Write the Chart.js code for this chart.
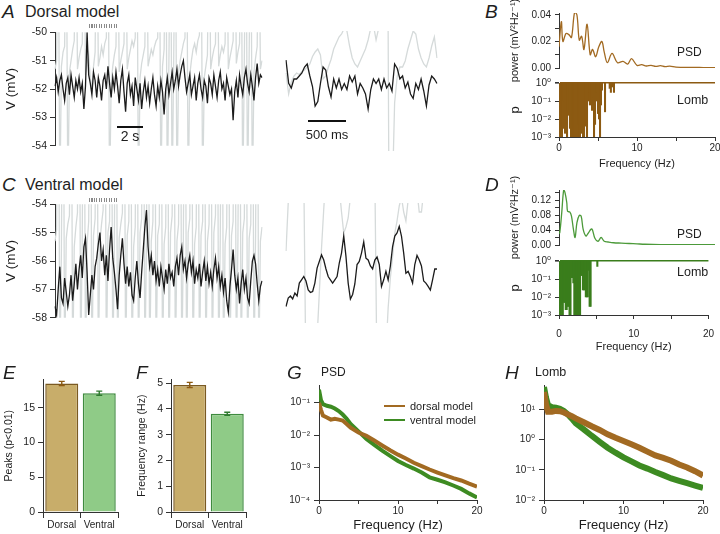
<!DOCTYPE html>
<html>
<head>
<meta charset="utf-8">
<script src="https://cdn.jsdelivr.net/npm/chart.js@4.4.1/dist/chart.umd.min.js"></script>
<style>
  body { margin: 0; width: 720px; height: 534px; position: relative; overflow: hidden; background: #fff;
         font-family: "Liberation Sans", Arial, "DejaVu Sans", sans-serif; color: #1e1e1e; }
  canvas { position: absolute; }
  .t { position: absolute; white-space: nowrap; line-height: 1; }
  .let { font-style: italic; font-size: 19px; }
  .bar { position: absolute; background: #111; }
  .dots { position: absolute; height: 4px; background: repeating-linear-gradient(90deg, #8a8a8a 0 1px, transparent 1px 2.5px); }
</style>
</head>
<body>
<script>
// ---- dorsal model traces (mV) ----
const dorsalLong = [
  -51.9,-51.6,-52.1,-51.7,-51.5,-52.0,-52.4,-51.8,-51.6,-52.2,
  -51.5,-51.9,-52.3,-51.7,-52.0,-51.6,-52.1,-51.8,-52.7,-51.9,
  -50.0,-51.5,-51.8,-52.2,-51.4,-51.7,-52.3,-51.6,-51.9,-52.4,
  -51.7,-51.5,-52.0,-51.2,-51.8,-52.3,-51.6,-52.0,-51.4,-51.9,
  -52.5,-51.7,-51.3,-52.1,-52.8,-51.8,-51.5,-52.2,-51.9,-52.6,
  -51.6,-52.0,-52.4,-51.8,-52.7,-52.1,-51.7,-52.3,-51.9,-52.5,
  -52.0,-51.6,-52.2,-52.6,-51.9,-52.3,-51.7,-52.1,-52.9,-52.0,
  -51.6,-52.2,-51.8,-51.4,-52.0,-51.7,-51.3,-51.9,-51.5,-51.2,
  -51.0,-51.6,-52.1,-51.8,-51.5,-52.2,-51.9,-51.6,-52.4,-51.8,
  -51.5,-52.0,-52.3,-51.7,-51.9,-52.5,-51.6,-51.8,-52.2,-51.5,
  -51.9,-52.3,-51.7,-51.4,-52.0,-51.8,-52.4,-51.6,-51.9,-52.2,
  -52.0,-53.1,-52.1,-51.7,-52.3,-51.5,-51.9,-52.2,-51.6,-51.3,
  -51.8,-52.1,-51.5,-51.9,-52.4,-51.6,-51.1,-51.8,-51.5,-51.6];
const dorsalLongSpk = [
  -51.3,-51.0,-45,-56,-51.2,-50.7,-50.5,-45,-56,-51.4,
  -51.0,-50.6,-50.3,-45,-51.3,-50.9,-50.6,-50.4,-45,-51.5,
  -51.1,-50.8,-51.6,-52.1,-51.2,-50.7,-45,-51.2,-50.9,-50.5,
  -50.8,-50.4,-50.2,-45,-56,-51.8,-51.2,-50.8,-50.5,-45,
  -51.4,-51.0,-50.7,-50.4,-45,-51.3,-50.9,-50.6,-50.3,-50.5,
  -50.2,-45,-56,-51.6,-51.1,-50.8,-50.5,-45,-51.2,-50.9,
  -50.6,-50.8,-50.5,-50.3,-50.2,-45,-56,-51.2,-50.6,-45,
  -56,-51.0,-45,-56,-50.8,-45,-56,-51.4,-51.0,-50.7,
  -50.4,-50.2,-45,-56,-51.5,-51.0,-50.6,-50.4,-50.7,-50.3,
  -50.1,-45,-56,-51.6,-51.2,-50.8,-45,-51.3,-50.9,-50.6,
  -50.4,-45,-51.2,-50.8,-50.5,-50.7,-50.4,-45,-51.3,-50.9,
  -50.6,-50.3,-45,-51.1,-50.7,-50.4,-45,-56,-50.9,-45,
  -56,-50.8,-45,-56,-51.4,-50.9,-50.5,-45,-51.3,-51.0];
const dorsalZoom = [
  -50.97,-51.74,-51.9,-51.6,-51.6,-51.5,-51.4,-51.2,-51.1,-51.5,
  -51.85,-52.5,-52.35,-51.75,-51.2,-51.3,-51.85,-52.2,-51.6,-51.9,
  -51.6,-51.95,-51.75,-51.95,-51.5,-51.7,-51.5,-52.1,-51.75,-51.9,
  -52.1,-52.6,-51.95,-51.6,-51.75,-51.6,-51.95,-51.6,-51.9,-51.75,
  -52.0,-51.1,-51.25,-51.6,-51.5,-51.9,-51.7,-52.1,-52.25,-51.75,
  -51.95,-51.6,-52.0,-52.5,-51.8,-51.5,-51.6,-51.75];
const dorsalZoomSpk = [
  -51.4,-52.1,-51.7,-51.5,-51.4,-51.45,-51.35,-51.3,-51.2,-51.1,
  -50.85,-50.7,-50.6,-50.8,-51.6,-51.5,-51.2,-50.95,-50.6,-50.4,
  -50.2,-50.1,-49.9,-50.0,-50.5,-50.9,-51.1,-51.2,-51.0,-50.8,
  -50.6,-50.3,-49.9,-49.8,-50.3,-49.9,-49.8,-49.9,-40,-58,
  -56,-52.4,-51.5,-51.2,-51.2,-51.0,-50.6,-50.3,-50.0,-50.1,
  -50.6,-50.9,-51.1,-51.2,-50.9,-50.5,-50.2,-50.9];

// ---- ventral model traces (mV) ----
const ventralLong = [
  -57.6,-57.9,-57.0,-56.2,-57.3,-57.5,-56.6,-57.1,-57.6,-57.2,
  -56.5,-57.4,-56.8,-56.1,-57.0,-56.3,-55.8,-56.6,-55.5,-55.2,
  -56.4,-57.9,-57.2,-56.5,-57.0,-56.2,-55.9,-55.4,-55.0,-56.0,
  -55.6,-56.5,-55.8,-56.7,-55.6,-54.8,-55.9,-56.4,-57.0,-57.7,
  -56.5,-55.8,-55.2,-56.1,-56.8,-56.2,-56.9,-56.4,-57.2,-57.4,
  -56.6,-56.0,-56.8,-57.3,-56.4,-55.6,-54.8,-54.2,-55.5,-56.2,
  -55.8,-56.5,-56.0,-56.7,-56.3,-56.9,-56.2,-56.6,-57.0,-56.3,
  -56.8,-56.1,-56.6,-56.4,-56.9,-56.2,-55.9,-56.5,-55.8,-55.5,
  -56.3,-56.0,-56.6,-56.1,-55.8,-56.4,-56.0,-56.8,-56.3,-56.6,
  -56.1,-56.9,-56.4,-56.0,-56.7,-56.2,-56.8,-56.4,-56.9,-56.3,
  -55.9,-56.6,-56.2,-56.9,-56.5,-57.1,-56.6,-57.4,-57.8,-56.9,
  -56.3,-55.6,-56.5,-57.0,-56.6,-57.5,-56.8,-56.3,-57.0,-56.6,
  -57.3,-57.5,-56.7,-56.0,-55.8,-56.1,-56.8,-57.4,-56.9,-56.7];
const ventralLongSpk = [
  -55.3,-54.9,-45,-60,-55.6,-45,-60,-55.2,-54.7,-54.4,
  -45,-60,-55.5,-54.8,-54.3,-45,-60,-55.0,-45,-60,
  -55.4,-54.6,-45,-60,-55.1,-54.5,-45,-60,-55.3,-54.7,
  -54.2,-45,-60,-55.0,-54.6,-45,-60,-55.4,-45,-60,
  -55.2,-54.7,-54.3,-45,-60,-55.1,-54.6,-45,-60,-55.5,
  -54.8,-45,-60,-55.0,-54.5,-45,-60,-55.2,-45,-60,
  -55.3,-54.6,-45,-60,-55.1,-54.7,-45,-60,-55.4,-54.8,
  -45,-60,-55.0,-54.4,-45,-60,-55.3,-54.7,-45,-60,
  -55.2,-45,-60,-55.0,-54.5,-45,-60,-55.4,-54.8,-45,
  -60,-55.1,-54.6,-45,-60,-55.3,-54.7,-45,-60,-55.0,
  -54.4,-45,-60,-55.2,-45,-60,-55.4,-54.8,-45,-60,
  -55.1,-54.6,-45,-60,-55.3,-45,-60,-55.0,-54.5,-45,
  -60,-55.2,-54.7,-45,-60,-55.1,-45,-60,-55.3,-54.8];
const ventralZoom = [
  -57.45,-57.17,-57.1,-57.2,-57.0,-57.1,-56.67,-56.56,-56.45,-56.6,
  -56.9,-56.98,-56.95,-56.67,-56.17,-55.95,-55.73,-55.9,-56.2,-56.45,
  -56.56,-56.67,-56.56,-56.45,-56.0,-55.67,-55.1,-55.78,-56.67,-57.2,
  -57.05,-56.7,-56.05,-55.95,-55.67,-55.3,-55.84,-55.9,-56.1,-56.2,
  -55.9,-55.8,-56.05,-56.78,-56.56,-56.28,-56.56,-56.1,-55.45,-55.1,
  -55.0,-54.78,-55.1,-55.67,-56.34,-56.28,-56.45,-56.67,-56.05,-55.75,
  -55.9,-56.1,-56.6,-56.67,-56.78,-56.9,-56.56,-56.2,-56.2];
const ventralZoomSpk = [
  -55.6,-54.0,-53,-53,-53,-53,-53,-53,-53,-60,
  -60,-60,-60,-60,-58.5,-57,-55.5,-54.2,-53,-53,
  -53,-53,-53,-53,-53.5,-54.3,-55.0,-54.8,-54.5,-53.8,
  -53,-53,-53,-53,-53,-53,-53,-53,-53,-53,
  -53,-60,-60,-60,-60,-59,-57.5,-56.5,-55.8,-55,
  -54.6,-54.1,-53.8,-54.3,-54.6,-53.9,-53,-53,-53,-53.6,
  -54.3,-54.3,-53.6,-53,-53,-53,-53,-53,-53];

// ---- single-trace spectra (B, D) ----
const psdFreqB = [0,0.3,0.5,0.9,1.3,1.6,2.0,2.3,2.6,2.9,3.2,3.6,4.0,4.3,4.7,5.1,5.5,5.8,6.2,6.8,7.5,8.2,8.8,9.3,10,10.6,11.2,11.8,12.4,13,13.6,14.2,15,16,17,18,19,20];
const psdB = [0.016,0.035,0.02,0.026,0.025,0.023,0.042,0.04,0.021,0.024,0.014,0.033,0.01,0.014,0.0085,0.016,0.02,0.012,0.004,0.011,0.004,0.005,0.003,0.007,0.002,0.0025,0.0015,0.002,0.0012,0.0018,0.001,0.0014,0.0006,0.0005,0.0004,0.0004,0.0003,0.0003];
const lombFreqB = [0.13,0.26,0.38,0.51,0.64,0.77,0.9,1.03,1.15,1.41,1.54,1.67,1.79,1.92,2.05,2.18,2.31,2.44,2.56,2.69,2.95,3.08,3.21,3.46,3.59,3.72,3.85,3.97,4.23,4.36,4.49,4.62,4.74,4.87,5.0,5.13,5.26,5.38,5.51,5.9,6.5,6.65,6.8,7.05];
const lombPB = [1e-4,1e-4,1e-4,3e-3,0.1,1.6e-3,0.01,1e-4,0.016,3e-3,1e-4,1e-4,1e-4,1e-4,1e-4,1e-4,1e-4,1e-4,5e-3,1e-4,1.6e-3,1e-4,1e-4,4e-3,1e-4,0.1,0.3,0.06,0.03,0.16,1e-4,5e-3,0.1,0.3,0.02,0.01,1e-4,0.06,0.4,0.025,0.5,0.3,0.6,0.3];
const psdFreqD = [0,0.1,0.35,0.6,0.77,1.0,1.1,1.4,1.6,1.85,2.06,2.3,2.6,2.84,3.1,3.45,3.7,4.2,4.6,5.0,5.4,5.8,6.3,7,8,9,10,11,12,14,16,18,20];
const psdD = [0.03,0.033,0.086,0.147,0.14,0.113,0.09,0.088,0.077,0.042,0.02,0.06,0.079,0.077,0.042,0.024,0.03,0.043,0.018,0.01,0.02,0.01,0.008,0.006,0.005,0.004,0.003,0.002,0.0015,0.001,0.001,0.0008,0.0008];
const lombFreqD = [0.13,0.26,0.38,0.51,0.64,0.77,0.9,1.03,1.15,1.28,1.41,1.54,1.67,1.79,1.92,2.05,2.18,2.31,2.44,2.56,2.69,2.82,2.95,3.08,3.21,3.33,3.46,3.59,3.72,3.85,3.97,4.1,4.23,5.13];
const lombPD = [1e-4,1e-4,4e-3,1e-4,5e-3,5e-3,2e-3,2e-3,3e-3,3e-3,1e-4,1e-4,0.12,0.12,0.06,1e-4,1e-4,1e-4,1e-4,1e-4,1e-4,1e-4,0.16,0.16,0.025,0.025,0.025,0.01,0.01,0.01,0.3,3e-3,3e-3,0.5];

// ---- population summary (E, F) ----
const groups = ['Dorsal', 'Ventral'];
const peaksMean = [18.5, 17.1];
const peaksErr = [0.3, 0.3];
const rangeMean = [4.93, 3.81];
const rangeErr = [0.1, 0.06];

// ---- averaged spectra (G, H) ----
const avgFreq = [0,0.25,0.5,1,1.5,2,2.5,3,3.5,4,5,6,7,8,9,10,11,12,13,14,15,16,17,18,19,20];
const psdDorsal = [0.10,0.06,0.04,0.035,0.03,0.032,0.03,0.028,0.022,0.017,0.012,0.0095,0.0068,0.0048,0.0034,0.0025,0.0019,0.0014,0.0011,0.00087,0.0007,0.00057,0.00047,0.0004,0.00032,0.00026];
const psdVentral = [0.25,0.12,0.09,0.08,0.075,0.066,0.055,0.043,0.032,0.022,0.013,0.0076,0.005,0.0033,0.0023,0.0016,0.0012,0.00093,0.0007,0.0005,0.00042,0.00035,0.00028,0.00022,0.00016,0.00012];
const lombDorsal = [38,15,8.5,8.5,9,8.8,8,6.9,6,5.1,3.8,2.8,2.1,1.5,1.15,0.9,0.7,0.54,0.4,0.3,0.25,0.2,0.15,0.12,0.09,0.065];
const lombVentral = [56,25,14,12,11.5,10.5,9,6.9,5,3.5,2.2,1.35,0.85,0.54,0.37,0.26,0.19,0.14,0.11,0.085,0.067,0.052,0.043,0.036,0.03,0.025];

const AX = '#333';
const BROWN = '#a26a22', BROWN_D = '#8c5a12', GREEN = '#3d8b22', GREEN_D = '#3a7d1c';
const FONT = '"Liberation Sans", Arial, "DejaVu Sans", sans-serif';
Chart.defaults.font.family = FONT;
Chart.defaults.color = '#1e1e1e';
Chart.defaults.plugins.legend.display = false;
Chart.defaults.plugins.tooltip.enabled = false;

const SUP = { '-': '⁻', '0': '⁰', '1': '¹', '2': '²', '3': '³', '4': '⁴' };
function sup(v) {
  var e = Math.round(Math.log10(v));
  return '10' + String(e).split('').map(function (ch) { return SUP[ch]; }).join('');
}
function pts(xs, ys) { return xs.map(function (x, i) { return { x: x, y: ys[i] }; }); }

// axis builder, Igor-like: outside ticks, no grid in the plot
function ax(o) {
  var a = {
    type: o.type || 'linear',
    display: true,
    offset: !!o.offset,
    border: { color: AX, width: 1 },
    grid: { drawOnChartArea: false, color: AX, tickLength: o.tl || 5, offset: !!o.offset },
    ticks: { autoSkip: false, maxRotation: 0, font: { size: o.fs || 10 }, padding: o.pad == null ? 3 : o.pad },
    title: { display: false }
  };
  if (o.min != null) a.min = o.min;
  if (o.max != null) a.max = o.max;
  if (o.at) a.afterBuildTicks = function (s) { s.ticks = o.at.map(function (v) { return { value: v }; }); };
  if (o.fmt) a.ticks.callback = o.fmt;
  if (o.title) a.title = { display: true, text: o.title, font: { size: o.tfs || 11 }, padding: o.tpad };
  return a;
}

// places a canvas so that its plot area lands on area {l,t,r,b}
function panel(area, m, cfg) {
  var c = document.createElement('canvas');
  var w = area.r - area.l + m.l + m.r, h = area.b - area.t + m.t + m.b;
  c.style.left = (area.l - m.l) + 'px';
  c.style.top = (area.t - m.t) + 'px';
  c.style.width = w + 'px';
  c.style.height = h + 'px';
  c.width = w; c.height = h;
  document.body.appendChild(c);
  var sc = cfg.options.scales;
  var yOn = sc.y.display !== false, xOn = sc.x.display !== false;
  if (yOn) sc.y.afterFit = function (s) { s.width = m.l; };
  if (xOn) sc.x.afterFit = function (s) { s.height = m.b; };
  cfg.options.layout = { padding: { left: yOn ? 0 : m.l, right: m.r, top: m.t, bottom: xOn ? 0 : m.b } };
  cfg.options.responsive = false;
  cfg.options.animation = false;
  return new Chart(c, cfg);
}

function trace(area, m, black, gray, lo, hi, withAxis) {
  return panel(area, m, {
    type: 'line',
    data: {
      labels: black.map(function (_, i) { return i; }),
      datasets: [
        { data: black, borderColor: '#1b1b1b', borderWidth: 1.3, pointRadius: 0, tension: 0 },
        { data: gray, borderColor: '#d5dada', borderWidth: 1.3, pointRadius: 0, tension: 0 }
      ]
    },
    options: {
      scales: {
        x: { type: 'category', display: false, offset: false },
        y: withAxis
          ? ax({ min: lo, max: hi, at: [lo, lo + 1, lo + 2, lo + 3, hi], fmt: function (v) { return v; },
                 fs: 10.5, tl: 5, pad: 3, title: 'V (mV)', tfs: 13.5, tpad: { top: 3, bottom: 0 } })
          : { display: false, min: lo, max: hi }
      }
    }
  });
}

function psd(area, m, freq, vals, max, at, labelled, color) {
  return panel(area, m, {
    type: 'line',
    data: { datasets: [{ data: pts(freq, vals), borderColor: color, borderWidth: 1.3, pointRadius: 0, tension: 0.35 }] },
    options: {
      scales: {
        x: { type: 'linear', display: false, min: 0, max: 20 },
        y: ax({ min: 0, max: max, at: at,
                fmt: function (v) { return labelled.some(function (t) { return Math.abs(t - v) < 1e-9; }) ? v.toFixed(2) : ''; },
                fs: 10, tl: 4, pad: 4, title: 'power (mV²Hz⁻¹)', tfs: 11, tpad: { top: 8, bottom: 0 } })
      }
    }
  });
}

function lomb(area, mb, freq, p, color, lblPad, ttlPad) {
  var y = ax({ type: 'logarithmic', min: 1e-3, max: 1, at: [1e-3, 1e-2, 1e-1, 1], fmt: sup,
               fs: 10, tl: 4, pad: 4, title: 'p', tfs: 13, tpad: { top: 8, bottom: 0 } });
  y.grid.drawOnChartArea = true;
  y.grid.tickColor = AX;
  y.grid.color = function (ctx) { return ctx.tick && ctx.tick.value === 1 ? color : 'rgba(0,0,0,0)'; };
  y.grid.lineWidth = function (ctx) { return ctx.tick && ctx.tick.value === 1 ? 1.6 : 1; };
  return panel(area, { l: 59, t: 8, r: 8, b: mb }, {
    type: 'bar',
    data: { datasets: [{ data: freq.map(function (f, i) { return { x: f, y: [p[i], 1] }; }),
                         backgroundColor: color, borderWidth: 0, barThickness: 1.4 }] },
    options: {
      scales: {
        x: ax({ min: 0, max: 20, at: [0, 5, 10, 15, 20], fmt: function (v) { return v % 10 === 0 ? v : ''; },
                fs: 10, tl: 4, pad: lblPad, title: 'Frequency (Hz)', tfs: 11, tpad: { top: 0, bottom: ttlPad } }),
        y: y
      }
    }
  });
}

const errorBars = {
  id: 'errorBars',
  afterDatasetsDraw: function (chart, args, o) {
    var meta = chart.getDatasetMeta(0), ys = chart.scales.y, ctx = chart.ctx, d = chart.data.datasets[0].data;
    meta.data.forEach(function (bar, i) {
      var y1 = ys.getPixelForValue(d[i] - o.err[i]), y2 = ys.getPixelForValue(d[i] + o.err[i]);
      ctx.save();
      ctx.strokeStyle = o.colors[i];
      ctx.lineWidth = 1.4;
      ctx.beginPath();
      ctx.moveTo(bar.x, y1); ctx.lineTo(bar.x, y2);
      ctx.moveTo(bar.x - 3, y1); ctx.lineTo(bar.x + 3, y1);
      ctx.moveTo(bar.x - 3, y2); ctx.lineTo(bar.x + 3, y2);
      ctx.stroke();
      ctx.restore();
    });
  }
};

function bars(area, m, means, errs, max, at, title, tpad) {
  return panel(area, m, {
    type: 'bar',
    data: { labels: groups, datasets: [{ data: means,
      backgroundColor: ['#c8ad6a', '#8fcb87'], borderColor: ['#7a5a22', '#3f8b3f'], borderWidth: 1.5,
      barPercentage: 0.88, categoryPercentage: 1 }] },
    options: {
      plugins: { errorBars: { err: errs, colors: [BROWN_D, '#2f7a2f'] } },
      scales: {
        x: ax({ type: 'category', offset: true, fs: 10, tl: 6, pad: 1 }),
        y: ax({ min: 0, max: max, at: at, fmt: function (v) { return v; }, fs: 10.5, tl: 5, pad: 3,
                title: title, tfs: 10.5, tpad: { top: tpad, bottom: 0 } })
      }
    },
    plugins: [errorBars]
  });
}

function spectra(area, lo, hi, at, d, v, lw) {
  return panel(area, { l: 40, t: 8, r: 12, b: 34 }, {
    type: 'line',
    data: { datasets: [
      { data: pts(avgFreq, d), borderColor: BROWN, borderWidth: lw, pointRadius: 0, tension: 0 },
      { data: pts(avgFreq, v), borderColor: GREEN, borderWidth: lw, pointRadius: 0, tension: 0 }
    ] },
    options: {
      scales: {
        x: ax({ min: 0, max: 20, at: [0, 5, 10, 15, 20], fmt: function (x) { return x % 10 === 0 ? x : ''; },
                fs: 10, tl: 4, pad: 1, title: 'Frequency (Hz)', tfs: 13, tpad: { top: 0, bottom: 1 } }),
        y: ax({ type: 'logarithmic', min: lo, max: hi, at: at, fmt: sup, fs: 10, tl: 5, pad: 4 })
      }
    }
  });
}

// A / C: membrane potential
trace({ l: 55, t: 31, r: 262, b: 151 }, { l: 55, t: 8, r: 4, b: 4 }, dorsalLong, dorsalLongSpk, -54, -50, true);
trace({ l: 286, t: 31, r: 437, b: 151 }, { l: 2, t: 2, r: 2, b: 2 }, dorsalZoom, dorsalZoomSpk, -54, -50, false);
trace({ l: 55, t: 203, r: 262, b: 323 }, { l: 55, t: 8, r: 4, b: 4 }, ventralLong, ventralLongSpk, -58, -54, true);
trace({ l: 286, t: 203, r: 437, b: 323 }, { l: 2, t: 2, r: 2, b: 2 }, ventralZoom, ventralZoomSpk, -58, -54, false);

// B / D: PSD and Lomb periodogram
psd({ l: 559, t: 13, r: 715, b: 68 }, { l: 59, t: 13, r: 5, b: 15 }, psdFreqB, psdB, 0.0415, [0, 0.01, 0.02, 0.03, 0.04], [0, 0.02, 0.04], BROWN);
lomb({ l: 559, t: 81, r: 715, b: 137 }, 36, lombFreqB, lombPB, BROWN_D, 1, 2.4);
psd({ l: 559, t: 190, r: 715, b: 245 }, { l: 59, t: 16, r: 5, b: 16 }, psdFreqD, psdD, 0.147, [0, 0.02, 0.04, 0.06, 0.08, 0.1, 0.12, 0.14], [0, 0.04, 0.08, 0.12], '#4c9a3a');
lomb({ l: 559, t: 259, r: 715, b: 315 }, 40, lombFreqD, lombPD, GREEN_D, 9, 1.4);

// E / F: bar summaries
bars({ l: 43, t: 378, r: 118, b: 512 }, { l: 43, t: 8, r: 8, b: 20 }, peaksMean, peaksErr, 19.1, [0, 5, 10, 15], 'Peaks (p<0.01)', 2.7);
bars({ l: 171, t: 378, r: 246, b: 512 }, { l: 36, t: 8, r: 8, b: 20 }, rangeMean, rangeErr, 5.15, [0, 1, 2, 3, 4, 5], 'Frequency range (Hz)', 0.7);

// G / H: averaged spectra
spectra({ l: 319, t: 383, r: 477, b: 500 }, 1e-4, 0.35, [1e-4, 1e-3, 1e-2, 1e-1], psdDorsal, psdVentral, 4);
spectra({ l: 544, t: 383, r: 703, b: 500 }, 1e-2, 65, [1e-2, 1e-1, 1, 10], lombDorsal, lombVentral, 6);

// text and scale bars
function txt(s, x, y, cls, size, center) {
  var d = document.createElement('div');
  d.className = 't ' + (cls || '');
  d.textContent = s;
  d.style.left = x + 'px';
  d.style.top = y + 'px';
  if (size) d.style.fontSize = size + 'px';
  d.style.transform = center ? 'translate(-50%,-50%)' : 'translateY(-50%)';
  document.body.appendChild(d);
}
function box(cls, x, y, w, h, color) {
  var d = document.createElement('div');
  d.className = cls;
  d.style.left = x + 'px'; d.style.top = y + 'px'; d.style.width = w + 'px'; d.style.height = h + 'px';
  if (color) d.style.background = color;
  document.body.appendChild(d);
}
txt('A', 2, 11, 'let'); txt('Dorsal model', 25, 12, '', 16);
txt('B', 485, 11, 'let');
txt('C', 2, 184, 'let'); txt('Ventral model', 25, 185, '', 16);
txt('D', 485, 184, 'let');
txt('E', 3, 372, 'let'); txt('F', 136, 372, 'let');
txt('G', 287, 372, 'let'); txt('PSD', 321, 372, '', 12);
txt('H', 505, 372, 'let'); txt('Lomb', 535, 372, '', 12.5);
txt('PSD', 677, 52, '', 12); txt('Lomb', 677, 100, '', 12.5);
txt('PSD', 677, 234, '', 12); txt('Lomb', 677, 272, '', 12.5);
box('bar', 117, 126, 26, 2); txt('2 s', 130, 136, '', 14, true);
box('bar', 308, 120, 38, 2); txt('500 ms', 327, 134, '', 13, true);
box('dots', 89, 24, 28, 4); box('dots', 89, 198, 28, 4);
box('bar', 384, 405, 21, 2, BROWN); txt('dorsal model', 410, 406, '', 11);
box('bar', 384, 419, 21, 2, GREEN); txt('ventral model', 410, 420, '', 11);
</script>
</body>
</html>
